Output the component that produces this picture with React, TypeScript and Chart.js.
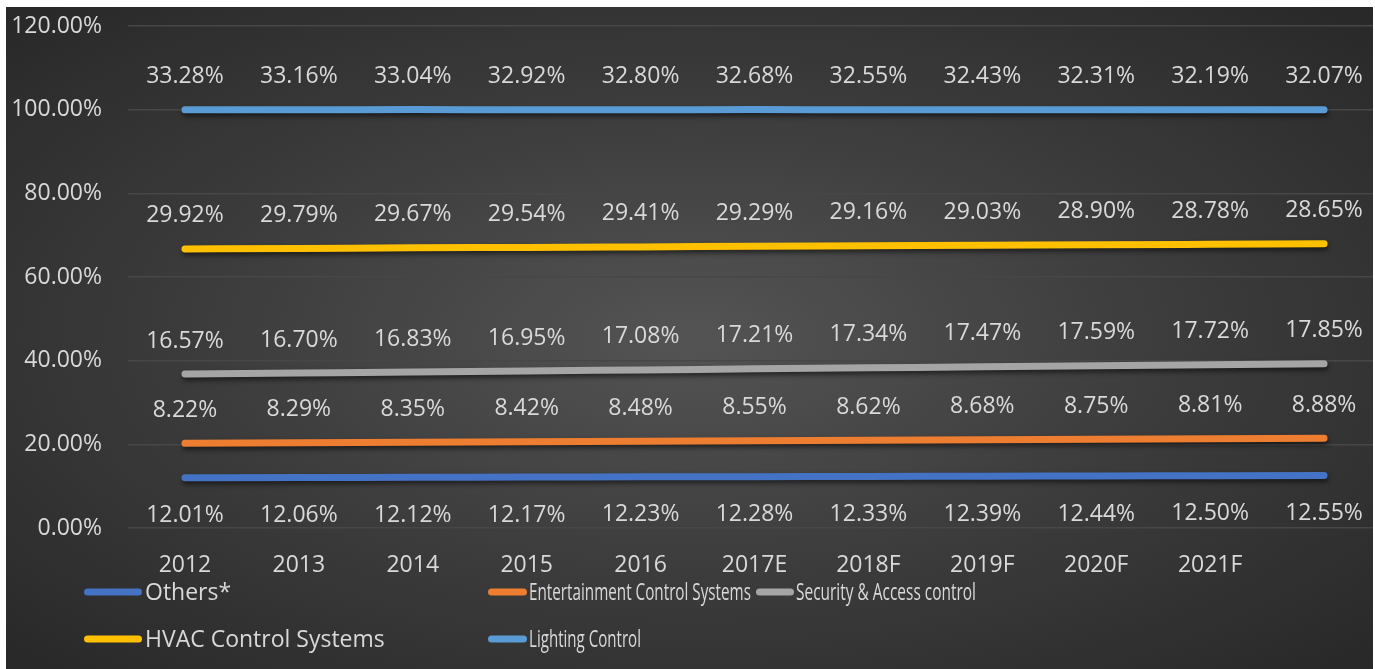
import React, { useEffect, useRef } from "react";
import { Chart, registerables } from "chart.js";

Chart.register(...registerables);

const categories = ["2012", "2013", "2014", "2015", "2016", "2017E", "2018F", "2019F", "2020F", "2021F", ""];
const others = [12.01, 12.06, 12.12, 12.17, 12.23, 12.28, 12.33, 12.39, 12.44, 12.5, 12.55];
const entertainment = [8.22, 8.29, 8.35, 8.42, 8.48, 8.55, 8.62, 8.68, 8.75, 8.81, 8.88];
const security = [16.57, 16.7, 16.83, 16.95, 17.08, 17.21, 17.34, 17.47, 17.59, 17.72, 17.85];
const hvac = [29.92, 29.79, 29.67, 29.54, 29.41, 29.29, 29.16, 29.03, 28.9, 28.78, 28.65];
const lighting = [33.28, 33.16, 33.04, 32.92, 32.8, 32.68, 32.55, 32.43, 32.31, 32.19, 32.07];
const seriesNames = ["Others*", "Entertainment Control Systems", "Security & Access control", "HVAC Control Systems", "Lighting Control"];
const seriesColors = ["#4472C4", "#ED7D31", "#A5A5A5", "#FFC000", "#5B9BD5"];
const yTicks = [0, 20, 40, 60, 80, 100, 120];

const FONT = '"Open Sans", sans-serif';
const FONT_SIZE = 23;
const TEXT_COLOR = "#d9d9d9";

// legend layout (canvas-relative)
const legendLayout = [
  { x1: 78, x2: 136, tx: 139, y: 585, maxW: 0 },
  { x1: 482, x2: 521, tx: 523, y: 585, maxW: 222 },
  { x1: 750, x2: 788, tx: 790, y: 585, maxW: 180 },
  { x1: 78, x2: 136, tx: 139, y: 632, maxW: 0 },
  { x1: 482, x2: 521, tx: 523, y: 632, maxW: 112 },
];

const shadowPlugin = {
  id: "lineShadow",
  beforeDatasetsDraw(chart: any) {
    const ctx = chart.ctx;
    ctx.save();
    ctx.shadowColor = "rgba(0,0,0,0.55)";
    ctx.shadowBlur = 5;
    ctx.shadowOffsetX = 1;
    ctx.shadowOffsetY = 3;
  },
  afterDatasetsDraw(chart: any) {
    chart.ctx.restore();
  },
};

const labelPlugin = {
  id: "valueLabels",
  afterDraw(chart: any) {
    const ctx = chart.ctx;
    ctx.save();
    ctx.font = `${FONT_SIZE}px ${FONT}`;
    ctx.fillStyle = TEXT_COLOR;
    ctx.textAlign = "center";
    ctx.textBaseline = "middle";
    chart.data.datasets.forEach((ds: any, di: number) => {
      const meta = chart.getDatasetMeta(di);
      const off = di === 0 ? 38 : -33;
      meta.data.forEach((pt: any, i: number) => {
        const v = ds.data[i];
        ctx.fillText(v.toFixed(2) + "%", pt.x, pt.y + off);
      });
    });
    // legend
    ctx.textAlign = "left";
    legendLayout.forEach((l, i) => {
      ctx.strokeStyle = seriesColors[i];
      ctx.lineWidth = 7;
      ctx.lineCap = "round";
      ctx.beginPath();
      ctx.moveTo(l.x1 + 3.5, l.y);
      ctx.lineTo(l.x2 - 3.5, l.y);
      ctx.stroke();
      ctx.fillStyle = TEXT_COLOR;
      if (l.maxW > 0) ctx.fillText(seriesNames[i], l.tx, l.y + 1, l.maxW);
      else ctx.fillText(seriesNames[i], l.tx, l.y + 1);
    });
    ctx.restore();
  },
};

export default function App() {
  const ref = useRef<HTMLCanvasElement | null>(null);
  useEffect(() => {
    if (!ref.current) return;
    const series = [others, entertainment, security, hvac, lighting];
    const chart = new Chart(ref.current, {
      type: "line",
      data: {
        labels: categories,
        datasets: series.map((d, i) => ({
          label: seriesNames[i],
          data: d,
          borderColor: seriesColors[i],
          backgroundColor: seriesColors[i],
          borderWidth: 7,
          borderCapStyle: "round",
          borderJoinStyle: "round",
          pointRadius: 0,
          fill: false,
          cubicInterpolationMode: "monotone",
        })),
      },
      options: {
        responsive: false,
        animation: false,
        devicePixelRatio: 1,
        layout: { padding: { top: 19, left: 0, right: 0, bottom: 0 } },
        plugins: { legend: { display: false }, tooltip: { enabled: false } },
        scales: {
          x: {
            offset: true,
            grid: { display: false, drawTicks: false },
            border: { display: false },
            ticks: { color: TEXT_COLOR, font: { family: FONT, size: FONT_SIZE }, padding: 24, maxRotation: 0, autoSkip: false },
            afterFit(scale: any) {
              scale.height = 141;
            },
          },
          y: {
            stacked: true,
            min: 0,
            max: 120,
            afterBuildTicks(scale: any) {
              scale.ticks = yTicks.map((v) => ({ value: v }));
            },
            grid: { color: "#474747", lineWidth: 1.5, drawTicks: true, tickLength: 26, tickColor: "rgba(0,0,0,0)" },
            border: { display: false },
            ticks: {
              color: TEXT_COLOR,
              font: { family: FONT, size: FONT_SIZE },
              padding: 0,
              callback: (v: any) => Number(v).toFixed(2) + "%",
            },
            afterFit(scale: any) {
              scale.width = 122;
            },
          },
        },
      },
      plugins: [shadowPlugin, labelPlugin],
    } as any);
    return () => chart.destroy();
  }, []);
  return (
    <div
      style={{
        position: "fixed",
        left: 6,
        top: 7,
        width: 1367,
        height: 662,
        overflow: "hidden",
        background: "radial-gradient(ellipse at 50% 50%, #545454 0%, #3c3c3c 50%, #282828 100%)",
      }}
    >
      <canvas ref={ref} width={1375} height={662} style={{ display: "block" }} />
    </div>
  );
}
